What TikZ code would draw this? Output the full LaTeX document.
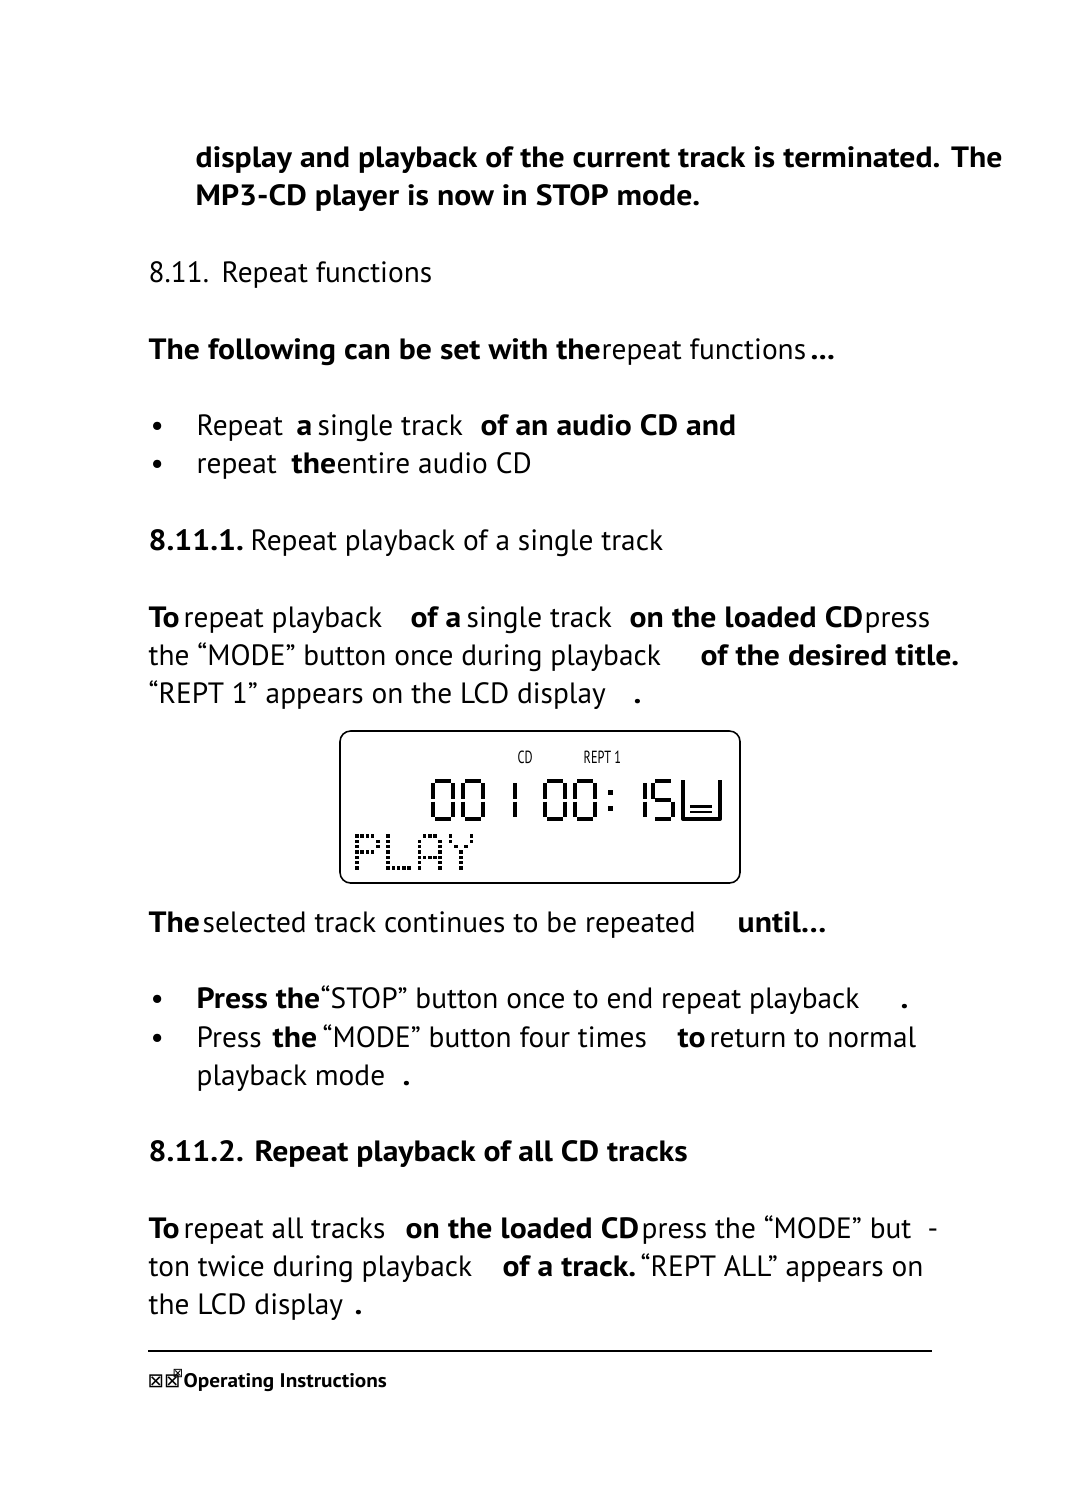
\documentclass[tikz,border=0pt]{standalone}
\usepackage{fontspec}
\setmainfont{PT Sans}[BoldFeatures={FakeStretch=1.08}]
\newfontfamily\symfont{DejaVu Sans}
\tikzset{
  txt/.style={anchor=base west, inner sep=0pt, font=\fontsize{8.35}{10}\selectfont},
  btxt/.style={txt, font=\fontsize{8.35}{10}\selectfont\bfseries},
  lcdtxt/.style={anchor=base west, inner sep=0pt, font=\fontsize{5}{6}\selectfont},
  seg/.style={line width=1pt, line cap=butt},
}
\newcommand{\lcdsega}[1]{\draw[seg] (#1+2,781)--(#1+18,781);}
\newcommand{\lcdsegb}[1]{\draw[seg] (#1+20,783)--(#1+20,798.5);}
\newcommand{\lcdsegc}[1]{\draw[seg] (#1+20,801.5)--(#1+20,817);}
\newcommand{\lcdsegd}[1]{\draw[seg] (#1+2,819)--(#1+18,819);}
\newcommand{\lcdsege}[1]{\draw[seg] (#1,801.5)--(#1,817);}
\newcommand{\lcdsegf}[1]{\draw[seg] (#1,783)--(#1,798.5);}
\newcommand{\lcdsegg}[1]{\draw[seg] (#1+2,800)--(#1+18,800);}
\newcommand{\lcddigit}[2]{\foreach \s in {#2}{\csname lcdseg\s\endcsname{#1}}}
\begin{document}
\begin{tikzpicture}[x=0.1mm, y=-0.1mm, line join=round]
  \useasboundingbox (0,0) rectangle (1080,1500);
  \node[btxt] (l1) at (195,168) {display and playback of the current track is terminated. The};
  \node[btxt] (l2) at (195,206) {MP3-CD player is now in STOP mode.};
  \node[txt] (l3a) at (148,282) {8.11.};
  \node[txt] (l3b) at (221,282) {Repeat functions};
  \node[btxt] (l4a) at (148,359) {The following can be set with the};
  \node[txt] (l4b) at (601,359) {repeat functions};
  \node[btxt] (l4c) at (810,359) {...};
  \node[txt] (b1) at (150,435) {•};
  \node[txt] (l5a) at (196,435) {Repeat};
  \node[btxt] (l5b) at (296,435) {a};
  \node[txt] (l5c) at (317,435) {single track};
  \node[btxt] (l5d) at (480,435) {of an audio CD and};
  \node[txt] (b2) at (150,473) {•};
  \node[txt] (l6a) at (196,473) {repeat};
  \node[btxt] (l6b) at (291,473) {the};
  \node[txt] (l6c) at (336,473) {entire audio CD};
  \node[btxt] (l7a) at (148,550) {8.11.1.};
  \node[txt] (l7b) at (250,550) {Repeat playback of a single track};
  \node[btxt] (l8a) at (148,627) {To};
  \node[txt] (l8b) at (183,627) {repeat playback};
  \node[btxt] (l8c) at (410,627) {of a};
  \node[txt] (l8d) at (466,627) {single track};
  \node[btxt] (l8e) at (629,627) {on the loaded CD};
  \node[txt] (l8f) at (864,627) {press};
  \node[txt] (l9a) at (148,665) {the “MODE” button once during playback};
  \node[btxt] (l9b) at (700,665) {of the desired title.};
  \node[txt] (l10a) at (148,703) {“REPT 1” appears on the LCD display};
  \node[btxt] (l10b) at (633,703) {.};
  \draw[line width=0.45pt, rounded corners=3pt] (340,731) rectangle (740,883);
  \node[lcdtxt] (cd) at (517,763) {\scalebox{0.7}[1]{CD}};
  \node[lcdtxt] (rept) at (583,763) {\scalebox{0.7}[1]{REPT 1}};
  \lcddigit{433}{a,b,c,d,e,f}
  \lcddigit{463}{a,b,c,d,e,f}
  \lcddigit{495}{b,c}
  \lcddigit{545}{a,b,c,d,e,f}
  \lcddigit{575}{a,b,c,d,e,f}
  \fill (608,790) rectangle (612.5,794.5);
  \fill (608,806) rectangle (612.5,810.5);
  \lcddigit{625}{b,c}
  \lcddigit{653}{a,f,g,c,d}
  \draw[line width=1.1pt] (683,780)--(683,819)--(720,819)--(720,780);
  \draw[line width=0.7pt] (690,806.5)--(712,806.5) (690,812)--(712,812);
  \foreach \lx/\pts in {0/{0/0,1/0,2/0,3/0,0/1,4/1,0/2,4/2,0/3,1/3,2/3,3/3,0/4,0/5,0/6},
      1/{0/0,0/1,0/2,0/3,0/4,0/5,0/6,1/6,2/6,3/6,4/6},
      2/{1/0,2/0,3/0,0/1,4/1,0/2,4/2,0/3,4/3,0/4,1/4,2/4,3/4,4/4,0/5,4/5,0/6,4/6},
      3/{0/0,4/0,0/1,4/1,1/2,3/2,2/3,2/4,2/5,2/6}}
    \foreach \c/\r in \pts
      \fill ({357+31.2*\lx+5.2*\c-1.8},{836+5.33*\r-1.8}) rectangle ++(3.6,3.6);
  \node[btxt] (l11a) at (148,932) {The};
  \node[txt] (l11b) at (202,932) {selected track continues to be repeated};
  \node[btxt] (l11c) at (737,932) {until…};
  \node[txt] (b3) at (150,1008) {•};
  \node[btxt] (l12a) at (196,1008) {Press the};
  \node[txt] (l12b) at (320,1008) {“STOP” button once to end repeat playback};
  \node[btxt] (l12c) at (900,1008) {.};
  \node[txt] (b4) at (150,1047) {•};
  \node[txt] (l13a) at (196,1047) {Press};
  \node[btxt] (l13b) at (272,1047) {the};
  \node[txt] (l13c) at (322,1047) {“MODE” button four times};
  \node[btxt] (l13d) at (677,1047) {to};
  \node[txt] (l13e) at (709,1047) {return to normal};
  \node[txt] (l14a) at (196,1085) {playback mode};
  \node[btxt] (l14b) at (402,1085) {.};
  \node[btxt] (l15) at (148,1161) {8.11.2. Repeat playback of all CD tracks};
  \node[btxt] (l16a) at (148,1238) {To};
  \node[txt] (l16b) at (183,1238) {repeat all tracks};
  \node[btxt] (l16c) at (405,1238) {on the loaded CD};
  \node[txt] (l16d) at (641,1238) {press the “MODE” but};
  \node[txt] (l16e) at (927,1238) {-};
  \node[txt] (l17a) at (148,1276) {ton twice during playback};
  \node[btxt] (l17b) at (502,1276) {of a track.};
  \node[txt] (l17c) at (640,1276) {“REPT ALL” appears on};
  \node[txt] (l18a) at (148,1314) {the LCD display};
  \node[btxt] (l18b) at (354,1314) {.};
  \draw[line width=0.55pt] (148,1351)--(932,1351);
  \node[txt, font=\fontsize{5.6}{6}\selectfont\symfont] (pgno) at (147,1387) {⊠⊠};
  \node[txt, font=\fontsize{3.6}{4}\selectfont\symfont] (pgsup) at (172,1377) {⊠};
  \node[txt, font=\fontsize{5.6}{7}\selectfont\bfseries] (foot) at (183,1387) {Operating Instructions};
\end{tikzpicture}
\end{document}
